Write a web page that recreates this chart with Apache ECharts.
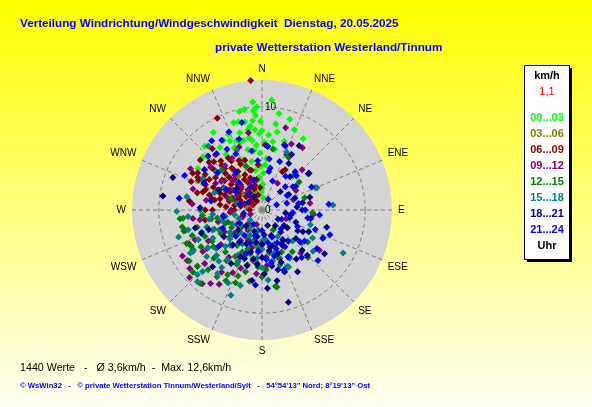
<!DOCTYPE html>
<html>
<head>
<meta charset="utf-8">
<script src="https://cdn.jsdelivr.net/npm/echarts@6/dist/echarts.min.js"></script>
<style>
  html, body { margin: 0; padding: 0; }
  #chart { width: 592px; height: 407px; }
</style>
</head>
<body>
<div id="chart"></div>
<script>
// Windrichtung labels, 22.5 deg apart
var dirs = ['N', 'NNE', 'NE', 'ENE', 'E', 'ESE', 'SE', 'SSE', 'S', 'SSW', 'SW', 'WSW', 'W', 'WNW', 'NW', 'NNW', ''];
var bands = ['00...03', '03...06', '06...09', '09...12', '12...15', '15...18', '18...21', '21...24'];
var bandColors = ['#00FF00', '#808000', '#800000', '#800080', '#008000', '#008080', '#000080', '#0000FF'];
var speedMax = 12.6;
var lastValue = [[1.1, 290]];

// [km/h, Richtung in Grad]
var h00_03 = [[10.7,5],[10.5,355],[9.9,350],[9.8,347],[9.65,355],[9.2,17],[8.9,342],[8.85,345],[8.7,349],[8.7,354],
  [8.6,359],[8.45,9],[7.9,350],[7.8,355],[7.7,0],[7.7,11],[8.9,328],[8.0,30],[7.7,331],[7.4,335],[7.2,340],[7.0,345],
  [6.8,352],[6.6,2],[6.7,9],[7.7,312],[7.3,314],[7.4,303],[4.8,348],[5.5,358],[2.1,0],[6.0,347],[3.9,351],[5.2,339],
  [2.9,352],[6.6,336],[7.3,326],[4.4,4],[7.3,5],[7.1,350],[8.0,336],[7.8,344],[3.2,355],[2.5,2],[1.8,358],[1.2,5],
  [5.8,352],[6.3,355],[7.4,358],[8.2,352],[9.2,356],[6.9,342],[5.0,5],[6.0,12],[7.0,18],[8.4,22],[4.2,358],[3.6,2],
  [9.5,10],[10.0,357],[6.4,327],[8.3,318]];
var h03_06 = [[2.5,310],[3.5,300],[4.0,325],[2.0,340],[3.0,290],[1.5,280]];
var h06_09 = [[7.6,298],[7.0,297],[7.1,277],[6.0,294],[5.3,286],[6.0,310],[4.85,307],[3.9,292],[5.0,324],[3.4,316],
  [2.3,294],[3.8,334],[2.4,325],[1.4,315],[2.5,344],[2.7,280],[4.1,277],[5.5,270],[6.0,327],[5.1,341],[4.4,355],
  [7.0,320],[7.7,309],[5.6,260],[3.1,266],[1.9,255],[6.3,3],[4.5,30],[4.2,28],[7.65,321],[9.9,334],[12.6,355],
  [6.2,5],[4.7,294],[3.7,302],[4.4,328],[4.05,343],[6.5,302],[5.85,318],[4.7,282],[1.5,345],[3.0,333],[3.1,292],
  [1.0,330],[2.0,310],[2.2,340],[3.2,320],[3.6,300],[4.2,285],[4.5,315],[5.5,305],[5.8,290],[6.2,320],[6.6,315],
  [6.8,305],[7.2,300],[4.8,325],[5.3,335],[3.0,350],[1.8,290],[2.7,270],[3.5,275],[4.8,270],[6.5,285],
  [1.5,300],[2.6,300],[2.9,315],[3.9,310],[4.3,300],[5.0,315],[5.2,295],[6.3,297],[6.9,312],[3.3,340],[4.0,345],
  [2.2,355],[1.2,270],[3.8,262],[5.0,283],
  [2.0,325],[2.8,305],[3.4,330],[4.0,318],[4.6,308],[5.4,318],[5.9,300],[6.4,310],[6.0,287],[4.4,292],[3.3,285],
  [2.1,280],[1.6,320],[5.6,328],[4.9,335],[6.8,295],[7.4,292],[3.9,298],[2.6,290],[1.0,300]];
var h09_12 = [[8.3,16],[7.0,24],[7.2,33],[5.9,24],[7.0,287],[6.75,263],[7.7,255],[8.3,229],[9.6,227],[6.5,235],
  [9.2,219],[8.7,215],[8.3,210],[8.75,236],[7.6,227],[7.1,246],[6.1,261],[6.7,205],[5.6,138],[3.2,72],[4.7,82],
  [3.7,168],[3.8,195],[2.0,250],[3.5,230],[4.5,220],[2.8,300],[4.0,315],[5.2,300],[3.0,340],[1.5,200],[5.0,190],
  [6.0,200],[4.2,240],[5.5,280],[6.5,310],[2.5,110],[4.0,150],[3.0,30],[5.5,45],[2.2,320],[3.6,290],[4.8,305],
  [5.8,330],[6.2,295],[1.2,250],[2.4,215],[3.2,205],[4.1,185],[5.4,175],[4.4,255],[6.0,240],[5.2,230],[3.0,270],[6.8,275],
  [7.8,245],[8.9,240],[9.0,231],[7.2,213],[6.2,185],[5.0,160],[6.8,125],[5.0,95],[3.8,60],[6.5,340],[7.6,350],[8.0,300],
  [3.0,318],[4.3,322],[5.6,320],[3.4,305],[2.0,285],[1.8,225],[2.8,240],[3.6,215],[4.8,205],[5.6,215],[6.4,225],
  [7.0,235],[4.6,175],[3.4,180],[2.6,160]];
var h12_15 = [[8.0,264],[7.85,255],[7.7,243],[8.3,229],[7.8,222],[9.3,220],[7.7,207],[7.5,200],[7.5,170],[6.3,179],
  [5.55,184],[5.0,248],[5.7,238],[5.0,260],[7.7,264],[7.9,258],[7.7,240],[8.0,246],[6.9,239],[5.9,233],[5.4,221],
  [7.8,214],[7.1,208],[6.5,180],[7.6,169],[4.5,205],[4.9,190],[5.8,176],[4.9,161],[4.5,155],[3.6,145],[5.0,144],
  [5.7,27],[4.5,53],[4.3,74],[4.9,93],[6.4,136],[3.0,210],[2.5,230],[3.5,250],[2.0,190],[4.0,230],[3.2,290],
  [5.5,315],[4.5,340],[6.0,10],[2.2,150],[2.8,175],[3.8,185],[4.0,200],[5.2,210],[6.0,215],[6.6,225],[4.6,240],
  [3.4,240],[6.5,255],[5.5,195],[3.5,160],[4.2,170],
  [8.6,235],[9.0,228],[6.1,245],[7.2,250],[5.8,265],[6.8,200],[7.0,190],[4.2,215],[3.0,195],[5.2,185],[4.0,140],[5.4,125],
  [2.2,215],[3.2,225],[4.4,195],[5.0,200],[5.8,205],[6.2,195],[3.8,250],[4.4,260]];
var h15_18 = [[8.25,269],[8.5,252],[8.1,239],[9.35,222],[8.8,200],[7.6,196],[6.1,155],[6.35,129],[4.9,107],[6.5,114],
  [8.9,118],[6.9,86],[5.6,119],[6.1,23],[5.6,67],[7.4,280],[8.1,320],[6.5,298],[5.75,68],[4.5,42],[6.3,337],
  [5.6,253],[5.2,248],[4.5,245],[5.5,240],[6.2,225],[5.9,215],[6.8,215],[4.6,222],[4.95,208],[4.5,202],[4.7,186],
  [5.0,168],[5.6,162],[6.0,156],[5.4,150],[8.3,224],[8.85,225],[7.8,239],[2.6,236],[2.7,205],[2.9,174],[2.7,260],
  [2.0,215],[3.4,200],[3.8,235],[4.6,245],[5.2,260],[6.2,250],[3.8,180],[4.4,165],[5.5,205],[6.5,220],[7.0,230],
  [3.0,150],[2.5,285],[4.2,300],[5.8,310],[7.2,265],
  [7.8,205],[7.5,215],[6.4,235],[6.8,245],[7.4,255],[4.0,215],[3.4,190],[4.8,175],[5.6,180],[6.8,175],[4.2,135],
  [5.0,130],[3.6,260],[6.0,270],[4.9,290],
  [1.5,230],[2.4,250],[3.0,225],[3.8,210],[4.2,228],[5.0,225],[5.8,230],[3.2,245],[4.0,255],[4.8,265],[2.2,195],[3.0,180]];
var h18_21 = [[7.6,176],[9.3,164],[6.9,150],[5.2,151],[2.3,97],[6.9,188],[6.3,249],[4.5,118],[7.3,221],[6.0,272],
  [6.7,255],[6.7,19],[5.8,52],[3.9,90],[9.2,290],[9.7,278],[5.7,52],[3.75,53],[6.1,28],[2.0,140],[3.0,125],
  [3.5,110],[2.7,160],[4.0,170],[4.5,160],[3.2,190],[3.5,145],[5.5,135],[4.8,100],[3.4,70],[4.2,40],[2.5,45],
  [5.0,200],[3.8,215],[4.6,180],[2.2,200],[5.5,170],[6.0,165],[1.8,120],[4.0,80],[3.0,60],[2.4,175],[3.3,180],
  [4.2,195],[5.3,185],[6.2,178],[3.0,230],[4.5,235],[5.5,250],[2.8,100],[4.3,130],[5.0,115],[6.5,105],[1.5,330],
  [3.2,310],[4.6,295],
  [6.4,160],[7.0,168],[5.8,145],[6.2,135],[7.4,125],[5.0,205],[6.0,210],[3.8,150],[2.6,125],[3.4,85],[4.8,75],
  [7.2,30],[5.2,30],
  [1.6,160],[2.6,190],[3.6,165],[4.8,190],[5.6,195],[3.6,205],[4.4,220],[2.2,225],[2.8,140],[4.0,120],[5.4,160]];
var h21_24 = [[8.2,337],[8.3,324],[7.0,321],[8.1,278],[6.8,305],[6.8,330],[6.6,20],[6.2,5],[8.2,294],[4.9,41],
  [6.5,115],[7.3,132],[5.1,126],[7.3,185],[4.2,148],[8.7,347],[4.15,11],[4.7,45],[2.5,240],[1.5,300],[2.5,335],
  [3.5,320],[4.0,300],[3.0,20],[2.8,60],[3.6,80],[3.0,95],[2.6,135],[3.5,155],[4.8,175],[2.0,180],[4.5,200],
  [3.0,215],[5.5,230],[3.8,260],[5.0,280],[1.2,30],[5.3,65],[4.5,100],[3.8,115],[2.1,115],[5.8,350],[5.0,8],
  [1.8,260],[2.2,285],[3.1,305],[4.4,325],[5.6,310],[6.2,295],[6.0,335],[3.4,200],[4.0,185],[4.6,165],[5.2,150],
  [6.0,140],[3.2,170],[2.8,105],[4.2,90],[5.6,95],
  [6.5,125],[7.0,110],[5.5,110],[6.5,85],[4.8,130],[6.2,160],[3.9,140],[7.4,315],[7.8,330],[7.2,342],[5.0,20],
  [4.0,35],[2.5,75],
  [1.6,210],[2.6,195],[3.6,225],[4.2,245],[2.8,160],[4.0,160],[5.2,170],[1.5,70],[3.2,45],[4.0,55],[3.8,10],
  [4.8,355],[3.0,345],[2.0,320]];
var bandData = [h00_03, h03_06, h06_09, h09_12, h12_15, h15_18, h18_21, h21_24];

var chart = echarts.init(document.getElementById('chart'), null, { renderer: 'canvas' });

var series = bandData.map(function (d, i) {
  return {
    name: bands[i],
    type: 'scatter',
    coordinateSystem: 'polar',
    symbol: 'diamond',
    symbolSize: 7,
    itemStyle: { color: bandColors[i], opacity: 1 },
    silent: true,
    z: 2 + i,
    data: d
  };
});
series.push({
  name: 'akt',
  type: 'scatter',
  coordinateSystem: 'polar',
  symbol: 'diamond',
  symbolSize: 5,
  itemStyle: { color: '#FF0000' },
  z: 12,
  data: lastValue
});

// Legende rechts
var legFont = 'bold 11px "Liberation Sans", Arial';
var legendTexts = [
  { type: 'text', x: 547, y: 76, style: { text: 'km/h', fill: '#000', font: legFont, textAlign: 'center', textVerticalAlign: 'middle' } },
  { type: 'text', x: 547, y: 92, style: { text: '1,1', fill: '#FF0000', font: '11px "Liberation Sans", Arial', textAlign: 'center', textVerticalAlign: 'middle' } }
];
bands.forEach(function (b, i) {
  legendTexts.push({ type: 'text', x: 547, y: 118 + i * 16, style: { text: b, fill: bandColors[i], font: legFont, textAlign: 'center', textVerticalAlign: 'middle' } });
});
legendTexts.push({ type: 'text', x: 547, y: 246, style: { text: 'Uhr', fill: '#000', font: legFont, textAlign: 'center', textVerticalAlign: 'middle' } });

var option = {
  backgroundColor: new echarts.graphic.LinearGradient(0, 0, 0, 1, [
    { offset: 0, color: '#FFFF00' },
    { offset: 1, color: '#FFFFF4' }
  ]),
  animation: false,
  polar: { center: [262, 210], radius: 130 },
  angleAxis: {
    type: 'value',
    min: 0,
    max: 360,
    interval: 22.5,
    startAngle: 90,
    clockwise: true,
    axisLine: { show: false },
    axisTick: { show: false },
    axisLabel: {
      margin: 6,
      color: '#000',
      fontFamily: '"Liberation Sans", Arial',
      fontSize: 10,
      formatter: function (v) { return dirs[Math.round(v / 22.5)]; }
    },
    splitLine: { show: true, lineStyle: { color: '#808080', type: [4, 3], width: 1 } }
  },
  radiusAxis: {
    min: 0,
    max: speedMax,
    interval: 10,
    axisLine: { show: false },
    axisTick: { show: false },
    axisLabel: {
      showMinLabel: true,
      margin: -3,
      align: 'left',
      color: '#000',
      fontFamily: '"Liberation Sans", Arial',
      fontSize: 10,
      formatter: function (v) { return (v === 0 || v === 10) ? String(v) : ''; }
    },
    splitLine: { show: true, lineStyle: { color: ['#808080', '#808080', 'rgba(0,0,0,0)'], type: [4, 3], width: 1 } }
  },
  series: series,
  graphic: [
    // grauer Hintergrund der Windrose
    { type: 'circle', z: -10, silent: true, shape: { cx: 262, cy: 210, r: 130 }, style: { fill: '#D4D4D4' } },
    { type: 'text', left: 20, top: 18, style: { text: 'Verteilung Windrichtung/Windgeschwindigkeit  Dienstag, 20.05.2025', fill: '#0000FF', font: 'bold 11.7px "Liberation Sans", Arial' } },
    { type: 'text', left: 215, top: 42, style: { text: 'private Wetterstation Westerland/Tinnum', fill: '#0000FF', font: 'bold 11.7px "Liberation Sans", Arial' } },
    { type: 'rect', shape: { x: 527, y: 68, width: 45, height: 194 }, style: { fill: '#000' } },
    { type: 'rect', shape: { x: 524.5, y: 65.5, width: 45, height: 194 }, style: { fill: '#FFFFFF', stroke: '#000', lineWidth: 1 } }
  ].concat(legendTexts).concat([
    { type: 'text', left: 20, top: 363, style: { text: '1440 Werte   -   Ø 3,6km/h  -  Max. 12,6km/h', fill: '#000', font: '10.7px "Liberation Sans", Arial' } },
    { type: 'text', left: 20, top: 382, style: { text: '© WsWin32   -   © private Wetterstation Tinnum/Westerland/Sylt   -   54°54\'13" Nord; 8°19\'13" Ost', fill: '#0000FF', font: 'bold 7.7px "Liberation Sans", Arial' } }
  ])
};
chart.setOption(option);
</script>
</body>
</html>
